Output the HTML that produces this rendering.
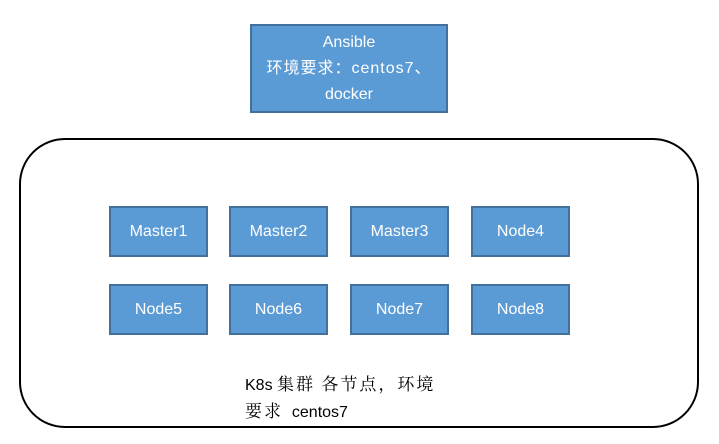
<!DOCTYPE html>
<html><head><meta charset="utf-8"><style>
body{margin:0;width:719px;height:444px;background:#fff;position:relative;overflow:hidden;font-family:"Liberation Sans","Noto Sans CJK SC",sans-serif}
.b{position:absolute;box-sizing:border-box;background:#5b9bd5;border:2px solid #41719c;color:#fff;font-size:16px;display:flex;align-items:center;justify-content:center;text-align:center}
.r{position:absolute;left:19px;top:138px;width:680px;height:290px;box-sizing:border-box;border:2px solid #000;border-radius:46px}
.t{position:absolute;left:245px;font-size:16px;color:#000;white-space:nowrap}
.c{font-family:"Noto Serif CJK SC",serif;font-size:17px;letter-spacing:2px}
</style></head><body>
<div class="b" style="left:250px;top:24px;width:198px;height:89px;line-height:26px"><div>Ansible<br><span style="letter-spacing:1px;white-space:nowrap">环境要求：centos7、</span><br>docker</div></div>
<div class="r"></div>
<div class="b" style="left:109px;top:206px;width:99px;height:51px">Master1</div>
<div class="b" style="left:229px;top:206px;width:99px;height:51px">Master2</div>
<div class="b" style="left:350px;top:206px;width:99px;height:51px">Master3</div>
<div class="b" style="left:471px;top:206px;width:99px;height:51px">Node4</div>
<div class="b" style="left:109px;top:284px;width:99px;height:51px">Node5</div>
<div class="b" style="left:229px;top:284px;width:99px;height:51px">Node6</div>
<div class="b" style="left:350px;top:284px;width:99px;height:51px">Node7</div>
<div class="b" style="left:471px;top:284px;width:99px;height:51px">Node8</div>
<div class="t" style="top:370px">K8s <span class="c">集群&nbsp;各节点，环境</span></div>
<div class="t" style="top:397px"><span class="c">要求</span>&nbsp; centos7</div>
</body></html>
